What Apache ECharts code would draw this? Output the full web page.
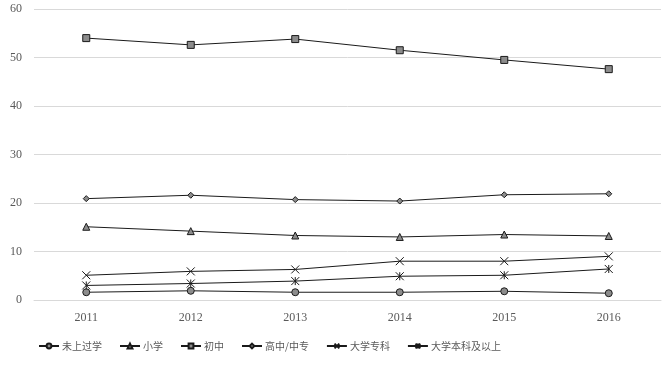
<!DOCTYPE html>
<html><head><meta charset="utf-8">
<script src="https://cdn.jsdelivr.net/npm/echarts@6/dist/echarts.min.js"></script>
<style>html,body{margin:0;padding:0;background:#fff}#c{width:664px;height:369px}</style>
</head><body><div id="c"></div>
<script>
var categories = ['2011','2012','2013','2014','2015','2016'];
var seriesNames = ['未上过学','小学','初中','高中/中专','大学专科','大学本科及以上'];
var noSchool = [1.6, 1.9, 1.6, 1.6, 1.8, 1.4];
var primary = [15.1, 14.2, 13.3, 13.0, 13.5, 13.2];
var juniorHigh = [54.0, 52.6, 53.8, 51.5, 49.5, 47.6];
var seniorHigh = [20.9, 21.6, 20.7, 20.4, 21.7, 21.9];
var college = [5.1, 5.9, 6.3, 8.0, 8.0, 9.0];
var bachelor = [3.0, 3.4, 3.9, 4.9, 5.1, 6.4];
var yTicks = [0, 10, 20, 30, 40, 50, 60];

var symbols = ['circle','triangle','rect','diamond',
  'path://M0,0L10,10M10,0L0,10',
  'path://M0,0L10,10M10,0L0,10M5,0L5,10'];
var sizes = [7,7,7,6,8,8];
var dataArr = [noSchool, primary, juniorHigh, seniorHigh, college, bachelor];

var chart = echarts.init(document.getElementById('c'));
chart.setOption({
  animation:false,
  grid:{left:34,right:3,top:9,bottom:69},
  xAxis:{type:'category',data:categories,boundaryGap:true,
    axisLine:{show:true,lineStyle:{color:'#d9d9d9'}},axisTick:{show:false},
    axisLabel:{margin:12,color:'#595959',fontFamily:'Liberation Serif',fontSize:12}},
  yAxis:{type:'value',min:yTicks[0],max:yTicks[yTicks.length-1],interval:10,
    axisLine:{show:false},axisTick:{show:false},
    splitLine:{lineStyle:{color:'#d9d9d9',width:1}},
    axisLabel:{margin:12,color:'#595959',fontFamily:'Liberation Serif',fontSize:12}},
  legend:{left:33,top:336,itemGap:17,itemWidth:20,itemHeight:6,
    textStyle:{color:'#595959',fontFamily:'Noto Sans CJK SC',fontSize:10,padding:[0,0,0,-2]},
    data:seriesNames},
  series:seriesNames.map(function(n,i){
    var isPath = i>=4;
    return {name:n,type:'line',data:dataArr[i],symbol:symbols[i],symbolSize:sizes[i],
      showAllSymbol:true,
      lineStyle:{color:'#1a1a1a',width:1},
      itemStyle:{color:isPath?'#1a1a1a':'#8c8c8c',borderColor:'#1a1a1a',borderWidth:1}};
  })
});
</script></body></html>
